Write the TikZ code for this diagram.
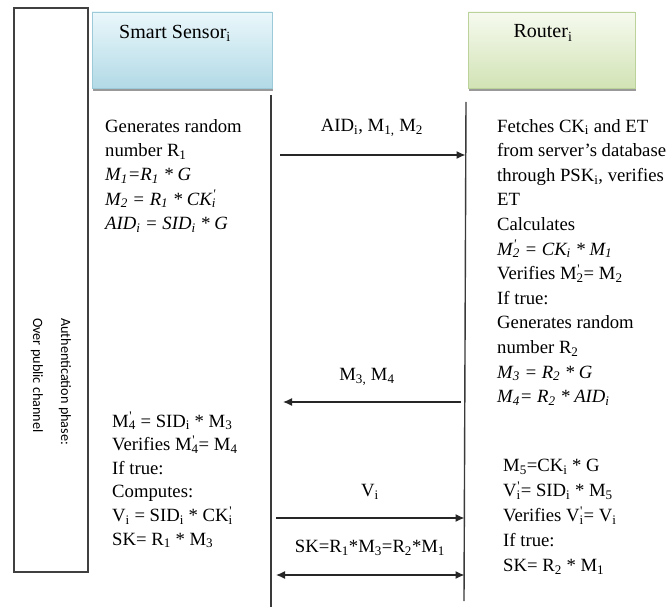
\documentclass[tikz,border=0pt]{standalone}
\usepackage{fontspec}
\setmainfont{Liberation Serif}
\newfontfamily\sidefont{Carlito}
\usetikzlibrary{shadows,arrows.meta}
\newcommand\ssub[1]{\textsubscript{#1}}
\newcommand\pr{\rlap{\textsuperscript{\kern0.05em\textquotesingle}}}
\definecolor{lifeln}{HTML}{3A3A3A}
\definecolor{sstop}{HTML}{EAF7FB}
\definecolor{ssbot}{HTML}{B2DAE6}
\definecolor{ssbrd}{HTML}{9CCAD8}
\definecolor{rttop}{HTML}{F6FAEF}
\definecolor{rtbot}{HTML}{D2E3B5}
\definecolor{rtbrd}{HTML}{BBD39B}
\tikzset{
  x=1pt, y=-1pt,
  txt/.style={inner sep=0pt, align=left, anchor=north west, font=\fontsize{18.7}{24.3}\selectfont},
  lbl/.style={inner sep=0pt, font=\fontsize{18.7}{22}\selectfont},
  hlbl/.style={inner sep=0pt, font=\fontsize{20}{22}\selectfont},
  hdr/.style={draw, line width=0.6pt, general shadow={fill=black!40, shadow xshift=1pt, shadow yshift=-3pt}},
  lifeline/.style={draw=lifeln, line width=1.4pt},
  msg/.style={draw=black!85, line width=1.3pt, -{Latex[length=9pt,width=8pt]}},
  msgboth/.style={draw=black!85, line width=1.3pt, {Latex[length=9pt,width=8pt]}-{Latex[length=9pt,width=8pt]}},
  side/.style={inner sep=0pt, rotate=-90, anchor=west, font=\sidefont\fontsize{14.2}{16}\selectfont}
}
\begin{document}
\begin{tikzpicture}
\useasboundingbox[fill=white] (0,0) rectangle (670,607);
% left phase box
\node[draw=black!75, line width=1.3pt, minimum width=74pt, minimum height=564pt, inner sep=0pt] (phase) at (51,290) {};
\node[side] (ph1) at (65,318) {Authentication phase:};
\node[side] (ph2) at (37,318) {Over public channel};
% header boxes
\node[hdr, draw=ssbrd, top color=sstop, bottom color=ssbot, minimum width=180pt, minimum height=76pt, inner sep=0pt] (ss) at (182,50) {};
\node[hlbl] (sslbl) at (175,33) {Smart Sensor\ssub{i}};
\node[hdr, draw=rtbrd, top color=rttop, bottom color=rtbot, minimum width=167pt, minimum height=76pt, inner sep=0pt] (rt) at (551.5,50) {};
\node[hlbl] (rtlbl) at (543,33) {Router\ssub{i}};
% lifelines
\coordinate (sT) at (271,95);
\coordinate (sB) at (271,607);
\coordinate (rT) at (466,102);
\coordinate (rB) at (464,601);
\draw[lifeline] (sT) -- (sB);
\draw[lifeline] (rT) -- (rB);
% messages
\coordinate (a1s) at (280,155); \coordinate (a1e) at (465.5,155);
\coordinate (a2s) at (461,402); \coordinate (a2e) at (283,402);
\coordinate (a3s) at (276,518); \coordinate (a3e) at (464.5,518);
\coordinate (a4s) at (276,575); \coordinate (a4e) at (464.5,575);
\draw[msg] (a1s) -- (a1e);
\draw[msg] (a2s) -- (a2e);
\draw[msg] (a3s) -- (a3e);
\draw[msgboth] (a4s) -- (a4e);
\node[lbl] (m1) at (372,128) {AID\ssub{i}, M\ssub{1,} M\ssub{2}};
\node[lbl] (m2) at (367,377) {M\ssub{3,} M\ssub{4}};
\node[lbl] (m3) at (370,492) {V\ssub{i}};
\node[lbl] (m4) at (370,548) {SK=R\ssub{1}*M\ssub{3}=R\ssub{2}*M\ssub{1}};
% text blocks
\node[txt] (sb1) at (105,119) {Generates random\\
number R\ssub{1}\\
\textit{M\ssub{1}=R\ssub{1} * G}\\
\textit{M\ssub{2} = R\ssub{1} * CK\pr\ssub{i}}\\
\textit{AID\ssub{i} = SID\ssub{i} * G}};
\node[txt, font=\fontsize{18.7}{24.6}\selectfont] (rb1) at (497,119) {Fetches CK\ssub{i} and ET\\
from server’s database\\
through PSK\ssub{i}, verifies\\
ET\\
Calculates\\
\textit{M\pr\ssub{2} = CK\ssub{i} * M\ssub{1}}\\
Verifies M\pr\ssub{2}= M\ssub{2}\\
If true:\\
Generates random\\
number R\ssub{2}\\
\textit{M\ssub{3} = R\ssub{2} * G}\\
\textit{M\ssub{4}= R\ssub{2} * AID\ssub{i}}};
\node[txt, font=\fontsize{18.7}{23.6}\selectfont] (sb2) at (112,412) {M\pr\ssub{4} = SID\ssub{i} * M\ssub{3}\\
Verifies M\pr\ssub{4}= M\ssub{4}\\
If true:\\
Computes:\\
V\ssub{i} = SID\ssub{i} * CK\pr\ssub{i}\\
SK= R\ssub{1} * M\ssub{3}};
\node[txt, font=\fontsize{18.7}{25}\selectfont] (rb2) at (503,459) {M\ssub{5}=CK\ssub{i} * G\\
V\pr\ssub{i}= SID\ssub{i} * M\ssub{5}\\
Verifies V\pr\ssub{i}= V\ssub{i}\\
If true:\\
SK= R\ssub{2} * M\ssub{1}};
\end{tikzpicture}
\end{document}
